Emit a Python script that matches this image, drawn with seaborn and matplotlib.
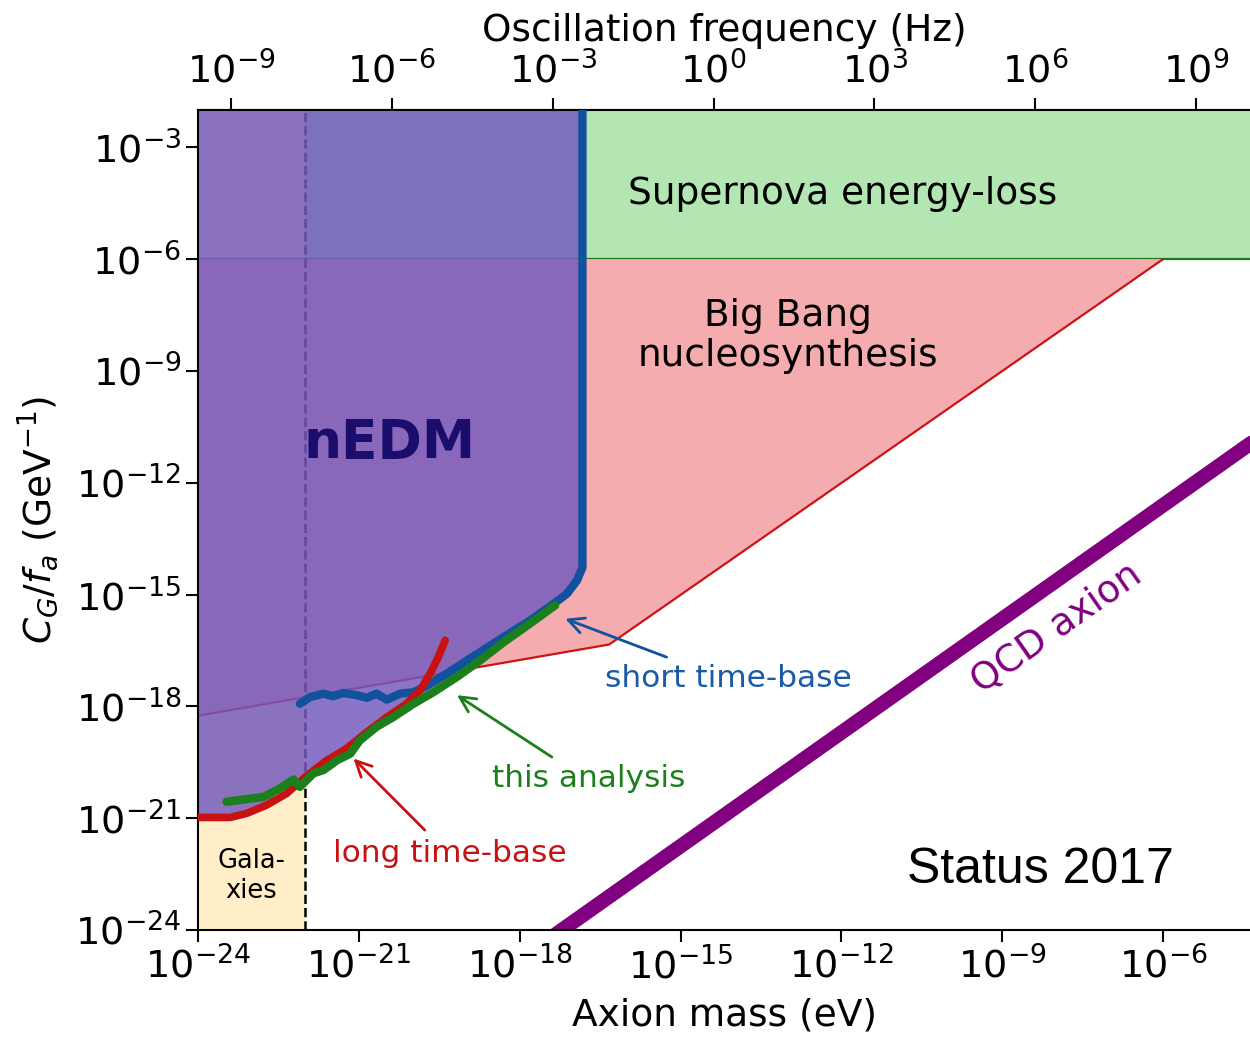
import numpy as np
import matplotlib
matplotlib.use("Agg")
import matplotlib.pyplot as plt
import seaborn as sns
from matplotlib.ticker import NullLocator

# ---------------- data (log10 values) ----------------
xlim_log = (-24.0, -4.38)
ylim_log = (-24.0, -2.0)
mass_ticks_log = [-24, -21, -18, -15, -12, -9, -6]
coupling_ticks_log = [-24, -21, -18, -15, -12, -9, -6, -3]
freq_ticks_log = [-9, -6, -3, 0, 3, 6, 9]
planck_eVs = 4.135667696e-15

# long time-base (red)
long_mass_log = [-24.00, -23.40, -23.09, -22.72, -22.35, -21.97, -21.60, -21.23,
                 -20.85, -20.48, -20.11, -19.86, -19.67, -19.52, -19.39]
long_coupling_log = [-20.98, -20.98, -20.87, -20.65, -20.34, -19.86, -19.45, -19.13,
                     -18.69, -18.29, -17.93, -17.57, -17.12, -16.68, -16.23]

# this analysis (green)
green_mass_log = [-23.47, -22.78, -22.47, -22.22, -22.10, -21.85, -21.66, -21.41,
                  -21.16, -20.98, -20.67, -20.36, -19.98, -19.61, -19.17, -18.74,
                  -18.30, -17.81, -17.34]
green_coupling_log = [-20.56, -20.43, -20.20, -19.96, -20.16, -19.80, -19.71, -19.45,
                      -19.27, -18.91, -18.55, -18.29, -17.93, -17.62, -17.21, -16.77,
                      -16.28, -15.78, -15.29]

# short time-base (blue)
short_mass_log = [-22.10, -21.91, -21.66, -21.48, -21.29, -21.04, -20.85, -20.67,
                  -20.48, -20.23, -19.98, -19.73, -19.36, -18.93, -18.30, -17.81,
                  -17.37, -17.12, -16.93, -16.83, -16.83]
short_coupling_log = [-17.93, -17.75, -17.66, -17.73, -17.64, -17.70, -17.77, -17.66,
                      -17.82, -17.66, -17.62, -17.44, -17.12, -16.72, -16.14, -15.70,
                      -15.25, -14.98, -14.62, -14.27, -2.0]

# nEDM excluded region
nedm_mass_log = [-24.0, -16.83, -16.83, -16.93, -17.12, -17.37, -17.81, -18.30,
                 -18.74, -19.17, -19.61, -19.98, -20.36, -20.67, -20.98, -21.41,
                 -21.85, -22.22, -22.47, -22.72, -23.09, -23.40, -24.0]
nedm_coupling_log = [-2.0, -2.0, -14.27, -14.62, -14.98, -15.25, -15.78, -16.28,
                     -16.77, -17.21, -17.62, -17.93, -18.29, -18.55, -18.91, -19.45,
                     -19.80, -19.96, -20.20, -20.65, -20.87, -20.98, -20.98]

# Big Bang nucleosynthesis boundary
bbn_mass_log = [-24.0, -16.33, -6.0]
bbn_coupling_log = [-18.25, -16.34, -6.0]

# Supernova energy-loss band
supernova_mass_log = [-24.0, -4.38]
supernova_coupling_log = [-6.0, -2.0]

# Galaxies
galaxies_mass_log = [-24.0, -22.0]

# QCD axion line
qcd_mass_log = [-18.0, -4.0]
qcd_coupling_log = [-24.80, -10.57]

# ---------------- style ----------------
sns.set_theme(style="ticks", rc={
    "axes.edgecolor": "black", "axes.linewidth": 1.5,
    "xtick.color": "black", "ytick.color": "black",
    "axes.labelcolor": "black", "text.color": "black",
})
plt.rcParams["font.family"] = ["DejaVu Sans"]
plt.rcParams["mathtext.fontset"] = "dejavusans"

c_sn = "#b3e6b3"
c_sn_edge = "#1f7a1f"
c_bbn = "#f4acae"
c_bbn_edge = "#cc1414"
c_gal = "#ffeec8"
c_nedm = "#7459bd"
c_red = "#c81212"
c_green = "#1b7f1b"
c_blue = "#10529c"
c_qcd = "#800080"

FS = 27
TICK_FS = 27.5
ANN_FS = 22.5

P = lambda v: 10.0 ** np.asarray(v, dtype=float)

fig = plt.figure(figsize=(12.5, 10.37), dpi=100)
ax = fig.add_axes([198 / 1250, 107 / 1037, 1052 / 1250, 820 / 1037])
ax.set_xscale("log")
ax.set_yscale("log")
ax.set_xlim(P(xlim_log[0]), P(xlim_log[1]))
ax.set_ylim(P(ylim_log[0]), P(ylim_log[1]))

# regions
ax.fill_between(P(supernova_mass_log), P(supernova_coupling_log[0]),
                P(supernova_coupling_log[1]), color=c_sn, lw=0, zorder=1)
ax.fill_between(P(galaxies_mass_log), P(ylim_log[0]), P(ylim_log[1]),
                color=c_gal, lw=0, zorder=1.1)
ax.plot(P(supernova_mass_log), P([supernova_coupling_log[0]] * 2),
        color=c_sn_edge, lw=1.6, zorder=1.2)
ax.fill(P(bbn_mass_log + [bbn_mass_log[-1], bbn_mass_log[0]]),
        P(bbn_coupling_log + [supernova_coupling_log[0], supernova_coupling_log[0]]),
        color=c_bbn, lw=0, zorder=1.3)
ax.plot(P(bbn_mass_log), P(bbn_coupling_log), color=c_bbn_edge, lw=1.6, zorder=1.4)
ax.axvline(P(galaxies_mass_log[1]), color="black", ls="--", lw=1.8, zorder=1.5)
ax.fill(P(nedm_mass_log), P(nedm_coupling_log), color=c_nedm, alpha=0.83, lw=0, zorder=2)

# curves
sns.lineplot(x=P(qcd_mass_log), y=P(qcd_coupling_log), ax=ax, color=c_qcd, lw=10.5,
             sort=False, estimator=None, zorder=2.5)
sns.lineplot(x=P(short_mass_log), y=P(short_coupling_log), ax=ax, color=c_blue, lw=6,
             sort=False, estimator=None, zorder=3)
sns.lineplot(x=P(long_mass_log), y=P(long_coupling_log), ax=ax, color=c_red, lw=5.5,
             sort=False, estimator=None, zorder=4)
sns.lineplot(x=P(green_mass_log), y=P(green_coupling_log), ax=ax, color=c_green, lw=6,
             sort=False, estimator=None, zorder=5)

# arrows
arrow_kw = dict(arrowstyle="->", lw=2, mutation_scale=28, shrinkA=0, shrinkB=0)
ax.annotate("", xy=(P(-17.15), P(-15.65)), xytext=(P(-15.26), P(-16.68)),
            arrowprops=dict(color=c_blue, **arrow_kw), zorder=6)
ax.annotate("", xy=(P(-19.17), P(-17.70)), xytext=(P(-17.40), P(-19.36)),
            arrowprops=dict(color=c_green, **arrow_kw), zorder=6)
ax.annotate("", xy=(P(-21.10), P(-19.40)), xytext=(P(-19.77), P(-21.32)),
            arrowprops=dict(color=c_red, **arrow_kw), zorder=6)

# labels
ax.text(P(-11.985), P(-4.525), "Supernova energy-loss", ha="center", va="baseline", fontsize=FS, zorder=7)
ax.text(P(-12.99), P(-7.79), "Big Bang", ha="center", va="baseline", fontsize=FS, zorder=7)
ax.text(P(-12.99), P(-8.865), "nucleosynthesis", ha="center", va="baseline", fontsize=FS, zorder=7)
ax.text(P(-20.42), P(-11.33), "nEDM", ha="center", va="baseline", fontsize=38.5,
        fontweight="bold", color="#1a0d6b", zorder=7)
ax.text(P(-14.10), P(-17.48), "short time-base", ha="center", va="baseline", fontsize=ANN_FS,
        color="#1a5aa8", zorder=7)
ax.text(P(-16.71), P(-20.16), "this analysis", ha="center", va="baseline", fontsize=ANN_FS,
        color=c_green, zorder=7)
ax.text(P(-19.30), P(-22.17), "long time-base", ha="center", va="baseline", fontsize=ANN_FS,
        color=c_red, zorder=7)
ax.text(P(-23.0), P(-22.34), "Gala-", ha="center", va="baseline", fontsize=18.5, zorder=7)
ax.text(P(-23.0), P(-23.14), "xies", ha="center", va="baseline", fontsize=18.5, zorder=7)
ax.text(P(-8.29), P(-22.75), "Status 2017", ha="center", va="baseline", fontsize=36,
        family=["Liberation Sans", "DejaVu Sans"], zorder=7)
ax.text(P(-7.99), P(-15.92), "QCD axion", ha="center", va="center", fontsize=FS,
        rotation=35, rotation_mode="anchor", color=c_qcd, zorder=7)

# axes
ax.set_xticks(P(mass_ticks_log))
ax.set_yticks(P(coupling_ticks_log))
ax.xaxis.set_minor_locator(NullLocator())
ax.yaxis.set_minor_locator(NullLocator())
ax.tick_params(which="major", length=8.5, width=1.5, labelsize=TICK_FS, direction="out")
ax.spines["right"].set_visible(False)
ax.set_xlabel("Axion mass (eV)", fontsize=FS, labelpad=8)
ax.set_ylabel(r"$C_G/f_a$ (GeV$^{-1}$)", fontsize=FS, labelpad=10)

secax = ax.secondary_xaxis("top", functions=(lambda m: m / planck_eVs,
                                             lambda f: f * planck_eVs))
secax.set_xticks(P(freq_ticks_log))
secax.xaxis.set_minor_locator(NullLocator())
secax.tick_params(which="major", length=8.5, width=1.5, labelsize=TICK_FS, direction="out",
                  pad=5)
secax.set_xlabel("Oscillation frequency (Hz)", fontsize=FS, labelpad=8)

fig.savefig("out.png", dpi=100)
